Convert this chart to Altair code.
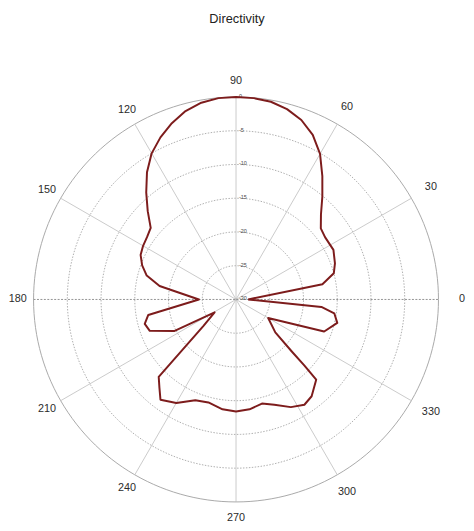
import altair as alt
import pandas as pd

# ---- data (angle in degrees, directivity in dB) ----
ANGLES = [0, 10, 15, 20, 27, 35, 40, 45, 50, 55, 60, 65, 70, 75, 80, 85, 90,
          95, 100, 105, 110, 115, 120, 125, 130, 135, 140, 145, 150, 155, 160,
          165, 170, 180, 190, 195, 200, 207, 211, 219, 225, 229, 233, 240, 248,
          255, 263, 270, 277, 284, 290, 297, 303, 308, 315, 316, 317, 320, 330,
          340, 347, 352, 355, 360]
DB = [-28.2, -17.0, -15.0, -14.4, -13.8, -13.9, -13.6, -12.2, -10.1, -7.7, -5.1,
      -3.1, -1.7, -0.8, -0.25, -0.05, 0.0,
      -0.05, -0.4, -1.1, -2.2, -3.5, -5.0, -7.0, -9.3, -11.5, -13.5, -13.9, -14.1,
      -14.4, -15.2, -16.3, -18.5, -24.5, -16.8, -16.0, -16.4, -19.7, -26.3, -23.8,
      -13.8, -12.7, -11.4, -12.3, -13.9, -14.2, -13.6, -13.4, -13.6, -14.1, -13.4,
      -12.1, -11.4, -11.8, -13.2, -15.9, -18.7, -22.4, -24.5, -16.1, -14.6, -15.3,
      -17.3, -28.2]

RING_LEVELS = [-25, -20, -15, -10, -5, 0]
RADIAL_LABELS = ["-30", "-25", "-20", "-15", "-10", "-5", "0"]
RADIAL_VALUES = [-30, -25, -20, -15, -10, -5, 0]
SPOKE_ANGLES = [0, 30, 60, 90, 120, 150, 180, 210, 240, 270, 300, 330]
SPOKE_LABELS = ["0", "30", "60", "90", "120", "150", "180", "210", "240", "270", "300", "330"]

RMIN = -30.0
FONT = "Liberation Sans"

# ---- geometry / layout (pixels) ----
PX_PER_UNIT = 206.0 / 30.0
PLOT_W = 466
PLOT_H = 482
CX, CY = 232, 252
LAB_BASE = 222.0 / PX_PER_UNIT
LAB_EXTRA = 8.0 / PX_PER_UNIT

xdom = [-CX / PX_PER_UNIT, (PLOT_W - CX) / PX_PER_UNIT]
ydom = [-(PLOT_H - CY) / PX_PER_UNIT, CY / PX_PER_UNIT]

xs = alt.Scale(domain=xdom, nice=False, zero=False)
ys = alt.Scale(domain=ydom, nice=False, zero=False)


def X(field):
    return alt.X(field, type="quantitative", scale=xs, axis=None)


def Y(field):
    return alt.Y(field, type="quantitative", scale=ys, axis=None)


curve_df = pd.DataFrame({"i": range(len(ANGLES)), "angle": ANGLES, "db": DB})

ring_rows = []
for lv in RING_LEVELS:
    for k, a in enumerate(range(0, 361, 2)):
        ring_rows.append({"level": lv, "k": k, "angle": a})
ring_df = pd.DataFrame(ring_rows)

spoke_df = pd.DataFrame({"angle": SPOKE_ANGLES, "label": SPOKE_LABELS})
rlab_df = pd.DataFrame({"label": RADIAL_LABELS, "db": RADIAL_VALUES})


def to_xy(ch):
    return ch.transform_calculate(
        r=f"datum.level - ({RMIN})"
    ).transform_calculate(
        x="datum.r * cos(datum.angle * PI / 180)",
        y="datum.r * sin(datum.angle * PI / 180)",
    )


rings_inner = to_xy(alt.Chart(ring_df).transform_filter("datum.level < 0")).mark_line(
    color="#9a9a9a", strokeWidth=0.8, strokeDash=[1.5, 1.5]
).encode(x=X("x"), y=Y("y"), detail="level:N", order="k:Q")

ring_outer = to_xy(alt.Chart(ring_df).transform_filter("datum.level == 0")).mark_line(
    color="#a8a8a8", strokeWidth=1
).encode(x=X("x"), y=Y("y"), detail="level:N", order="k:Q")

spokes = alt.Chart(spoke_df).transform_filter(
    "datum.angle != 0 && datum.angle != 180"
).transform_calculate(
    x0="0", y0="0",
    x1=f"{-RMIN} * cos(datum.angle * PI / 180)",
    y1=f"{-RMIN} * sin(datum.angle * PI / 180)",
).mark_rule(color="#bdbdbd", strokeWidth=0.8).encode(
    x=X("x0"), y=Y("y0"), x2="x1:Q", y2="y1:Q"
)

hline = alt.Chart(spoke_df).transform_filter("datum.angle == 0").transform_calculate(
    x0=f"{RMIN}", y0="0", x1=f"{-RMIN}", y1="0"
).mark_rule(color="#777777", strokeWidth=0.8, strokeDash=[2, 1.5]).encode(
    x=X("x0"), y=Y("y0"), x2="x1:Q", y2="y1:Q"
)

angle_labels = alt.Chart(spoke_df).transform_calculate(
    lr=f"{LAB_BASE} + {LAB_EXTRA} * max(cos(datum.angle * PI / 180), 0)"
).transform_calculate(
    x="datum.lr * cos(datum.angle * PI / 180)",
    y="datum.lr * sin(datum.angle * PI / 180)",
).mark_text(font=FONT, fontSize=11, color="#2b2b2b", baseline="middle", align="center").encode(
    x=X("x"), y=Y("y"), text="label:N"
)

radial_labels = alt.Chart(rlab_df).transform_calculate(
    x="0", y=f"datum.db - ({RMIN})"
).mark_text(font=FONT, fontSize=5.5, color="#444444", baseline="middle", align="left", dx=3, dy=-1).encode(
    x=X("x"), y=Y("y"), text="label:N"
)

curve = alt.Chart(curve_df).transform_calculate(
    r=f"datum.db - ({RMIN})"
).transform_calculate(
    x="datum.r * cos(datum.angle * PI / 180)",
    y="datum.r * sin(datum.angle * PI / 180)",
).mark_line(color="#7d1c1c", strokeWidth=2, strokeJoin="round").encode(
    x=X("x"), y=Y("y"), order="i:Q"
)

chart = alt.layer(
    rings_inner, ring_outer, spokes, hline, radial_labels, curve, angle_labels
).properties(
    width=PLOT_W,
    height=PLOT_H,
    background="white",
    title=alt.TitleParams(
        "Directivity", font=FONT, fontSize=13, fontWeight="normal",
        color="#222222", anchor="middle", offset=16, baseline="alphabetic"
    ),
    autosize=alt.AutoSizeParams(type="none"),
    padding={"left": 0, "top": 40, "right": 0, "bottom": 0},
).configure_view(stroke="transparent", strokeWidth=0)

chart.save("out.html", embed_options={"renderer": "svg", "actions": False})
